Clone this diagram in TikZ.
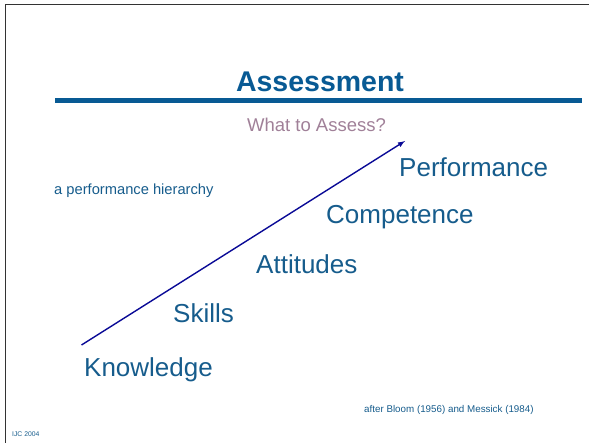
\documentclass[tikz,border=0pt]{standalone}
\usepackage{fontspec}
\setmainfont{Liberation Sans}
\usepackage{tikz}
\usetikzlibrary{arrows}

\definecolor{slide}{RGB}{22,92,140}
\definecolor{titleblue}{RGB}{8,90,148}
\definecolor{mauve}{RGB}{160,128,152}
\definecolor{arrnavy}{RGB}{10,10,150}

\begin{document}
\begin{tikzpicture}[x=1pt, y=-1pt]

\tikzstyle{lvl}=[slide, anchor=base west, inner sep=0pt, font=\fontsize{26}{30}\selectfont]
\tikzstyle{note}=[slide, anchor=base west, inner sep=0pt]
\tikzstyle{arr}=[draw, arrnavy, line width=1.4pt, -latex]

\useasboundingbox (0, 0) rectangle (589, 443);

% frame of the slide
\draw [black!80, line width=1.3pt] (5.5, 443) -- (5.5, 4.5) -- (589, 4.5);

\node (title) [titleblue, anchor=base, inner sep=0pt, font=\fontsize{28.5}{32}\selectfont\bfseries] at (320, 92) {Assessment};
\draw [titleblue, line width=4.5pt] (55, 100.5) -- (582, 100.5);
\node (what) [mauve, anchor=base, inner sep=0pt, font=\fontsize{18.5}{22}\selectfont] at (316.5, 132) {What to Assess?};

\node (hier) [note, font=\fontsize{14.7}{18}\selectfont] at (54, 195) {a performance hierarchy};

\node (l5) [lvl] at (399, 177) {Performance};
\node (l4) [lvl] at (326, 224) {Competence};
\node (l3) [lvl] at (256, 274) {Attitudes};
\node (l2) [lvl] at (173, 323) {Skills};
\node (l1) [lvl] at (84, 377) {Knowledge};

\coordinate (a0) at (81.5, 345);
\coordinate (a1) at (405, 141);
\path [arr] (a0) -- (a1);

\node (src) [note, font=\fontsize{9.8}{12}\selectfont] at (364, 413) {after Bloom (1956) and Messick (1984)};
\node (ijc) [note, font=\fontsize{6.8}{8}\selectfont] at (12, 436) {IJC 2004};

\end{tikzpicture}
\end{document}
